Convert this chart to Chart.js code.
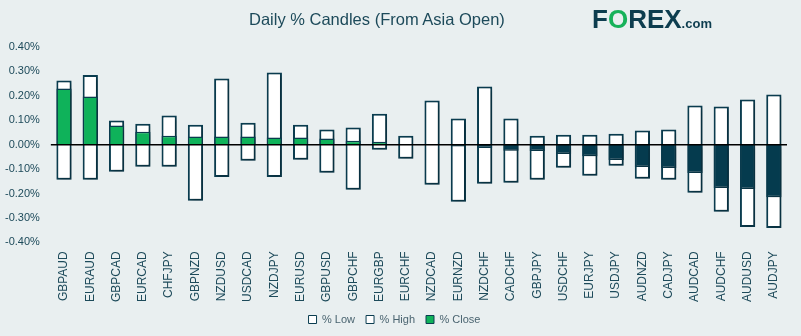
<!DOCTYPE html>
<html>
<head>
<meta charset="utf-8">
<script src="https://cdn.jsdelivr.net/npm/chart.js@4"></script>
<style>
  html, body { margin: 0; padding: 0; background: #e9eff0; }
  #wrap { position: relative; width: 801px; height: 336px; }
  #title { position: absolute; left: 249px; top: 10px; font: 16.5px "Liberation Sans", Arial, sans-serif; color: #1d4a5a; }
  #logo { position: absolute; left: 592px; top: 4px; font: bold 26px "Liberation Sans", Arial, sans-serif; color: #0d3d4f; }
  #logo .o { color: #17b25a; }
  #logo .com { font-size: 13px; }
</style>
</head>
<body>
<div id="wrap">
  <canvas id="candles" width="801" height="336"></canvas>
  <div id="title">Daily % Candles (From Asia Open)</div>
  <div id="logo">F<span class="o">O</span>REX<span class="com">.com</span></div>
</div>
<script>
const pairs = [
  'GBPAUD', 'EURAUD', 'GBPCAD', 'EURCAD', 'CHFJPY', 'GBPNZD', 'NZDUSD', 'USDCAD',
  'NZDJPY', 'EURUSD', 'GBPUSD', 'GBPCHF', 'EURGBP', 'EURCHF', 'NZDCAD', 'EURNZD',
  'NZDCHF', 'CADCHF', 'GBPJPY', 'USDCHF', 'EURJPY', 'USDJPY', 'AUDNZD', 'CADJPY',
  'AUDCAD', 'AUDCHF', 'AUDUSD', 'AUDJPY'
];
const lowPct = [
  -0.144, -0.144, -0.111, -0.090, -0.090, -0.230, -0.132, -0.066,
  -0.132, -0.062, -0.115, -0.185, -0.021, -0.058, -0.164, -0.234,
  -0.160, -0.156, -0.144, -0.095, -0.127, -0.086, -0.140, -0.144,
  -0.197, -0.275, -0.337, -0.341
];
const highPct = [
  0.263, 0.285, 0.099, 0.086, 0.119, 0.082, 0.271, 0.090,
  0.296, 0.082, 0.062, 0.070, 0.127, 0.037, 0.181, 0.107,
  0.238, 0.107, 0.037, 0.041, 0.041, 0.045, 0.058, 0.062,
  0.160, 0.156, 0.185, 0.205
];
const closePct = [
  0.230, 0.197, 0.078, 0.053, 0.037, 0.033, 0.033, 0.033,
  0.029, 0.029, 0.025, 0.016, 0.012, 0.001, 0.000, -0.008,
  -0.014, -0.025, -0.026, -0.038, -0.047, -0.063, -0.092, -0.096,
  -0.116, -0.178, -0.182, -0.215
];

const GREEN = '#0fb25a';
const NAVY = '#053b4e';
const EDGE = '#0b3d50';

// soft drop shadow behind the bars
const barShadow = {
  id: 'barShadow',
  beforeDatasetsDraw(chart) {
    const c = chart.ctx;
    c.save();
    c.shadowColor = 'rgba(0,0,0,0.28)';
    c.shadowBlur = 4;
    c.shadowOffsetX = 2;
    c.shadowOffsetY = 2;
  },
  afterDatasetsDraw(chart) {
    chart.ctx.restore();
  }
};

// black zero line drawn over the bars
const zeroLine = {
  id: 'zeroLine',
  afterDatasetsDraw(chart) {
    const { ctx, chartArea, scales } = chart;
    const y = scales.y.getPixelForValue(0);
    ctx.save();
    ctx.strokeStyle = '#000';
    ctx.lineWidth = 1.5;
    ctx.beginPath();
    ctx.moveTo(chartArea.left, y);
    ctx.lineTo(chartArea.right, y);
    ctx.stroke();
    ctx.restore();
  }
};

new Chart(document.getElementById('candles'), {
  type: 'bar',
  data: {
    labels: pairs,
    datasets: [
      {
        label: '% Low',
        data: lowPct,
        backgroundColor: '#ffffff',
        borderColor: EDGE,
        borderWidth: 2,
        order: 2
      },
      {
        label: '% High',
        data: highPct,
        backgroundColor: '#ffffff',
        borderColor: EDGE,
        borderWidth: 2,
        order: 2
      },
      {
        label: '% Close',
        data: closePct,
        backgroundColor: closePct.map(v => v >= 0 ? GREEN : NAVY),
        borderColor: EDGE,
        borderWidth: 1.5,
        order: 1
      }
    ]
  },
  options: {
    responsive: false,
    animation: false,
    layout: { padding: { top: 47, right: 14, left: 2, bottom: 1 } },
    datasets: {
      bar: { grouped: false, barPercentage: 0.58, categoryPercentage: 1 }
    },
    scales: {
      x: {
        grid: { display: false },
        border: { display: false },
        ticks: {
          minRotation: 90,
          maxRotation: 90,
          autoSkip: false,
          padding: 1,
          color: '#1d4a5a',
          font: { family: 'Liberation Sans', size: 12 }
        }
      },
      y: {
        min: -0.4,
        max: 0.4,
        grid: { display: false },
        border: { display: false },
        ticks: {
          stepSize: 0.1,
          color: '#1d4a5a',
          font: { family: 'Liberation Sans', size: 11 },
          callback: v => v.toFixed(2) + '%'
        }
      }
    },
    plugins: {
      tooltip: { enabled: false },
      legend: {
        position: 'bottom',
        labels: {
          boxWidth: 8,
          boxHeight: 8,
          padding: 11,
          color: '#4a6470',
          font: { family: 'Liberation Sans', size: 11 },
          generateLabels(chart) {
            return chart.data.datasets.map((ds, i) => ({
              text: ds.label,
              datasetIndex: i,
              fillStyle: i === 2 ? GREEN : '#ffffff',
              strokeStyle: EDGE,
              lineWidth: 1,
              fontColor: '#4a6470'
            }));
          }
        }
      }
    }
  },
  plugins: [barShadow, zeroLine]
});
</script>
</body>
</html>
